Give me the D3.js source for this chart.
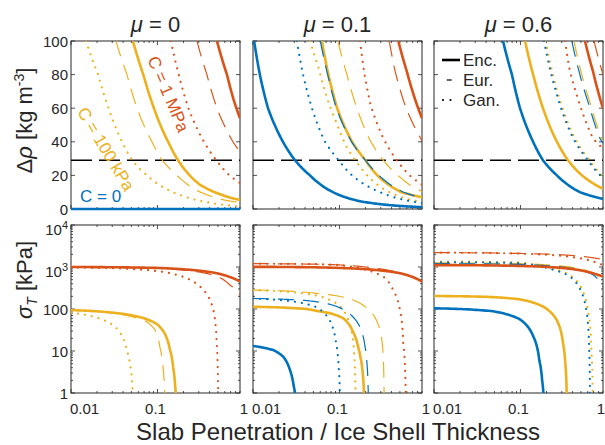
<!DOCTYPE html>
<html>
<head>
<meta charset="utf-8">
<script src="https://cdn.jsdelivr.net/npm/d3@7"></script>
<style>
  body { margin: 0; background: #fff; }
  svg { display: block; font-family: "Liberation Sans", Arial, sans-serif; }
</style>
</head>
<body>
<svg id="chart" width="605" height="445"></svg>
<script>
// ---- data ----
const muLabels = ["0", "0.1", "0.6"];
const xTickLabels = [[0.01, "0.01"], [0.1, "0.1"], [1, "1"]];
const rhoTicks = [0, 20, 40, 60, 80, 100];
const sigmaTicks = [1, 10, 100, 1000, 10000];
const rhoThreshold = 29;
const legendLabels = ["Enc.", "Eur.", "Gan."];

// density contrast [kg m^-3] vs penetration, mu = 0
const rho0_blue = [[0.01, 0], [0.9, 0]];
const rho0_yellow_enc = [[0.052, 100], [0.0686, 80], [0.091, 60], [0.133, 40], [0.173, 29], [0.31, 14.4], [0.75, 6.3], [0.9, 5.4]];
const rho0_yellow_eur = [[0.0331, 100], [0.0444, 80], [0.058, 60], [0.0864, 40], [0.1137, 29], [0.168, 20], [0.3, 10.5], [0.6, 5.3], [0.9, 3.8]];
const rho0_yellow_gan = [[0.0149, 100], [0.0206, 80], [0.0272, 60], [0.039, 40], [0.051, 29], [0.0756, 20], [0.151, 10], [0.4, 3.8], [0.9, 1.6]];
const rho0_red_enc = [[0.487, 100], [0.636, 80], [0.76, 65], [0.9, 54]];
const rho0_red_eur = [[0.286, 100], [0.373, 80], [0.487, 60], [0.746, 40], [0.9, 34]];
const rho0_red_gan = [[0.143, 100], [0.176, 80], [0.228, 60], [0.345, 40], [0.48, 29], [0.68, 20], [0.9, 15.5]];

// mu = 0.1
const rho1_blue_enc = [[0.0103, 100], [0.012, 80], [0.0149, 60], [0.0222, 40], [0.0306, 29], [0.0456, 20], [0.0841, 10], [0.159, 5], [0.4, 2.2], [0.9, 1.1]];
const rho1_blue_eur = [[0.06, 100], [0.073, 80], [0.092, 60], [0.138, 40], [0.2, 29], [0.3, 19], [0.55, 10], [0.9, 6.6]];
const rho1_blue_gan = [[0.0322, 100], [0.0379, 80], [0.0481, 60], [0.068, 40], [0.098, 29], [0.14, 20], [0.294, 10], [0.5, 6], [0.9, 3.5]];
const rho1_yellow_enc = [[0.0625, 100], [0.0745, 80], [0.094, 60], [0.14, 40], [0.2, 29], [0.28, 19.5], [0.52, 10], [0.9, 7]];
const rho1_yellow_eur = [[0.096, 100], [0.122, 80], [0.164, 58], [0.225, 41], [0.327, 28.5], [0.5, 19], [0.69, 13.5], [0.9, 10.5]];
const rho1_yellow_gan = [[0.0456, 100], [0.0569, 84.7], [0.0711, 66.8], [0.0929, 51], [0.121, 37], [0.173, 25.2], [0.294, 13.3], [0.6, 6], [0.9, 4.3]];
const rho1_red_enc = [[0.479, 100], [0.6, 82], [0.9, 54]];
const rho1_red_eur = [[0.376, 100], [0.44, 82], [0.57, 62], [0.87, 42], [0.9, 40.5]];
const rho1_red_gan = [[0.173, 100], [0.192, 82], [0.229, 62], [0.322, 42], [0.46, 29], [0.65, 20], [0.9, 14.5]];

// mu = 0.6
const rho6_blue_enc = [[0.0628, 100], [0.0797, 80], [0.0987, 60], [0.14, 40], [0.182, 29], [0.264, 20], [0.487, 10], [0.9, 6]];
const rho6_blue_eur = [[0.392, 100], [0.475, 82], [0.62, 62], [0.83, 42], [0.9, 39]];
const rho6_blue_gan = [[0.187, 100], [0.223, 82], [0.286, 62], [0.408, 42], [0.603, 29], [0.9, 18.5]];
const rho6_yellow_enc = [[0.113, 100], [0.14, 80], [0.182, 60], [0.264, 40], [0.354, 29], [0.514, 20], [0.9, 12]];
const rho6_yellow_eur = [[0.415, 100], [0.5, 82], [0.65, 62], [0.87, 42], [0.9, 40.5]];
const rho6_yellow_gan = [[0.195, 100], [0.232, 82], [0.297, 62], [0.425, 42], [0.63, 29], [0.9, 19.5]];
const rho6_red_enc = [[0.557, 100], [0.689, 82], [0.9, 60]];
const rho6_red_eur = [[0.71, 100], [0.9, 80]];
const rho6_red_gan = [[0.327, 100], [0.373, 82], [0.487, 62], [0.69, 42], [0.9, 36]];

// tensile stress [kPa] vs penetration, mu = 0
const sig0_red_enc = [[0.01, 1000], [0.05, 975], [0.1, 950], [0.2, 880], [0.3, 820], [0.5, 700], [0.7, 570], [0.9, 450]];
const sig0_red_eur = [[0.01, 1000], [0.1, 930], [0.3, 760], [0.5, 590], [0.687, 372], [0.8, 290], [0.9, 215]];
const sig0_red_gan = [[0.01, 970], [0.03, 935], [0.1, 800], [0.218, 540], [0.34, 283], [0.443, 95], [0.484, 15], [0.497, 4], [0.503, 1], [0.506, 0.7]];
const sig0_yellow_enc = [[0.01, 94], [0.03, 82], [0.048, 72], [0.07, 60], [0.098, 44], [0.12, 27], [0.139, 11], [0.152, 4], [0.16, 1.5], [0.164, 0.7]];
const sig0_yellow_eur = [[0.01, 95], [0.03, 80], [0.05, 66], [0.075, 50], [0.0935, 32], [0.107, 12], [0.116, 4], [0.12, 1.5], [0.122, 0.7]];
const sig0_yellow_gan = [[0.01, 82], [0.02, 62], [0.0282, 46], [0.035, 32], [0.044, 11], [0.048, 5], [0.0508, 2], [0.0517, 1], [0.052, 0.7]];

// mu = 0.1
const sig1_red_enc = [[0.01, 1010], [0.1, 950], [0.247, 860], [0.5, 710], [0.7, 580], [0.9, 447]];
const sig1_red_eur = [[0.01, 1200], [0.05, 1170], [0.1, 1120], [0.2, 1000], [0.3, 900], [0.5, 720], [0.7, 560], [0.9, 420]];
const sig1_red_gan = [[0.01, 1200], [0.05, 1170], [0.101, 1110], [0.206, 850], [0.323, 587], [0.418, 283], [0.5, 95], [0.546, 15], [0.575, 3], [0.584, 1], [0.587, 0.7]];
const sig1_yellow_enc = [[0.01, 113], [0.0418, 100], [0.0545, 90], [0.08, 78], [0.111, 60], [0.144, 28], [0.165, 12], [0.175, 7], [0.187, 2.5], [0.192, 1], [0.194, 0.7]];
const sig1_yellow_eur = [[0.01, 283], [0.0545, 236], [0.132, 175], [0.2, 112], [0.25, 69], [0.3, 26], [0.318, 10], [0.325, 3], [0.328, 1], [0.33, 0.7]];
const sig1_yellow_gan = [[0.01, 280], [0.03, 250], [0.06, 200], [0.1, 120], [0.125, 60], [0.14, 25], [0.148, 8], [0.152, 2], [0.154, 0.7]];
const sig1_blue_enc = [[0.01, 13.2], [0.0172, 10.5], [0.0224, 7.3], [0.0268, 3.5], [0.0295, 1.5], [0.0306, 1], [0.031, 0.7]];
const sig1_blue_eur = [[0.01, 178], [0.04, 160], [0.0711, 135], [0.1, 108], [0.144, 64], [0.18, 30], [0.197, 13], [0.208, 5], [0.214, 1.5], [0.216, 0.7]];
const sig1_blue_gan = [[0.01, 178], [0.03, 150], [0.0545, 110], [0.0778, 52], [0.0916, 15], [0.098, 4], [0.101, 1], [0.102, 0.7]];

// mu = 0.6
const sig6_red_enc = [[0.01, 1110], [0.1, 1060], [0.3, 950], [0.5, 830], [0.7, 700], [0.9, 590]];
const sig6_red_eur = [[0.01, 2200], [0.1, 2100], [0.3, 1950], [0.5, 1800], [0.7, 1650], [0.9, 1500]];
const sig6_red_gan = [[0.01, 2200], [0.1, 2080], [0.2, 1960], [0.3, 1850], [0.5, 1600], [0.7, 1350], [0.9, 1100]];
const sig6_yellow_enc = [[0.01, 204], [0.04, 195], [0.098, 170], [0.184, 113], [0.262, 55], [0.311, 15], [0.33, 5], [0.342, 1], [0.345, 0.7]];
const sig6_yellow_eur = [[0.01, 1250], [0.1, 1200], [0.3, 1050], [0.5, 900], [0.7, 700], [0.9, 480]];
const sig6_yellow_gan = [[0.01, 1350], [0.1, 1280], [0.22, 950], [0.372, 650], [0.53, 260], [0.6, 100], [0.636, 40], [0.665, 8], [0.683, 1], [0.686, 0.7]];
const sig6_blue_enc = [[0.01, 104], [0.0484, 88], [0.098, 57], [0.141, 22], [0.165, 6], [0.178, 2], [0.184, 1], [0.186, 0.7]];
const sig6_blue_eur = [[0.01, 1200], [0.1, 1150], [0.3, 1000], [0.5, 850], [0.7, 640], [0.9, 340]];
const sig6_blue_gan = [[0.01, 1300], [0.1, 1230], [0.22, 900], [0.372, 600], [0.5, 270], [0.57, 110], [0.605, 40], [0.625, 8], [0.636, 1], [0.639, 0.7]];

// [column, colour, body, points]
const rhoSeries = [
  [0, "yellow", "enc", rho0_yellow_enc], [0, "yellow", "eur", rho0_yellow_eur], [0, "yellow", "gan", rho0_yellow_gan],
  [0, "blue", "eur", rho0_blue], [0, "blue", "gan", rho0_blue], [0, "blue", "enc", rho0_blue],
  [0, "red", "enc", rho0_red_enc], [0, "red", "eur", rho0_red_eur], [0, "red", "gan", rho0_red_gan],
  [1, "yellow", "enc", rho1_yellow_enc], [1, "yellow", "eur", rho1_yellow_eur], [1, "yellow", "gan", rho1_yellow_gan],
  [1, "blue", "enc", rho1_blue_enc], [1, "blue", "eur", rho1_blue_eur], [1, "blue", "gan", rho1_blue_gan],
  [1, "red", "enc", rho1_red_enc], [1, "red", "eur", rho1_red_eur], [1, "red", "gan", rho1_red_gan],
  [2, "yellow", "enc", rho6_yellow_enc], [2, "yellow", "eur", rho6_yellow_eur], [2, "yellow", "gan", rho6_yellow_gan],
  [2, "blue", "enc", rho6_blue_enc], [2, "blue", "eur", rho6_blue_eur], [2, "blue", "gan", rho6_blue_gan],
  [2, "red", "enc", rho6_red_enc], [2, "red", "eur", rho6_red_eur], [2, "red", "gan", rho6_red_gan]
];
const sigSeries = [
  [0, "yellow", "enc", sig0_yellow_enc], [0, "yellow", "eur", sig0_yellow_eur], [0, "yellow", "gan", sig0_yellow_gan],
  [0, "red", "enc", sig0_red_enc], [0, "red", "eur", sig0_red_eur], [0, "red", "gan", sig0_red_gan],
  [1, "yellow", "enc", sig1_yellow_enc], [1, "yellow", "eur", sig1_yellow_eur], [1, "yellow", "gan", sig1_yellow_gan],
  [1, "blue", "enc", sig1_blue_enc], [1, "blue", "eur", sig1_blue_eur], [1, "blue", "gan", sig1_blue_gan],
  [1, "red", "enc", sig1_red_enc], [1, "red", "eur", sig1_red_eur], [1, "red", "gan", sig1_red_gan],
  [2, "yellow", "enc", sig6_yellow_enc], [2, "yellow", "eur", sig6_yellow_eur], [2, "yellow", "gan", sig6_yellow_gan],
  [2, "blue", "enc", sig6_blue_enc], [2, "blue", "eur", sig6_blue_eur], [2, "blue", "gan", sig6_blue_gan],
  [2, "red", "enc", sig6_red_enc], [2, "red", "eur", sig6_red_eur], [2, "red", "gan", sig6_red_gan]
];

// ---- layout ----
const colX = [71, 253, 434];
const rowY = [41, 225];
const pw = 169, ph = 168;
const axisColor = "#262626";
const COLORS = { blue: "#0072BD", red: "#D95319", yellow: "#EDB120" };
const STYLES = {
  enc: { w: 2.6, dash: null, cap: "butt" },
  eur: { w: 1.2, dash: "16,9", cap: "butt" },
  gan: { w: 2.2, dash: "0.01,7", cap: "round" }
};

const svg = d3.select("#chart");
const x = d3.scaleLog().domain([0.01, 0.9]).range([0, pw]);
const yRho = d3.scaleLinear().domain([0, 100]).range([ph, 0]);
const ySig = d3.scaleLog().domain([1, 1e4]).range([ph, 0]);

const xMinor = [];
[0.01, 0.1].forEach(d => { for (let k = 2; k <= 9; k++) xMinor.push(d * k); });
const sigMinor = [];
[1, 10, 100, 1000].forEach(d => { for (let k = 2; k <= 9; k++) sigMinor.push(d * k); });

// smooth drawing between read points: power-law steps for the density curves,
// straight steps in x/sigma for the stress curves
function densify(pts, powerLaw) {
  const out = [];
  for (let i = 0; i < pts.length - 1; i++) {
    const [xa, ya] = pts[i], [xb, yb] = pts[i + 1];
    const n = 24;
    for (let k = 0; k < n; k++) {
      const t = k / n;
      const xv = Math.exp(Math.log(xa) + t * (Math.log(xb) - Math.log(xa)));
      let yv;
      if (powerLaw && ya > 0 && yb > 0) {
        yv = Math.exp(Math.log(ya) + t * (Math.log(yb) - Math.log(ya)));
      } else {
        yv = ya + (yb - ya) * (xv - xa) / (xb - xa);
      }
      out.push([xv, yv]);
    }
  }
  out.push(pts[pts.length - 1]);
  return out;
}

const defs = svg.append("defs");

function drawPanel(row, col) {
  const g = svg.append("g").attr("transform", `translate(${colX[col]},${rowY[row]})`);
  const y = row === 0 ? yRho : ySig;
  const id = `clip-${row}-${col}`;
  defs.append("clipPath").attr("id", id)
    .append("rect").attr("x", 0).attr("y", 0).attr("width", pw).attr("height", ph + (row === 0 ? 2 : 0));

  g.append("rect").attr("width", pw).attr("height", ph)
    .attr("fill", "none").attr("stroke", axisColor).attr("stroke-width", 1);

  // ticks, inward on all four sides
  const tk = g.append("g").attr("stroke", axisColor).attr("stroke-width", 0.8);
  const xt = [...[0.01, 0.1].map(v => [v, 4]), ...xMinor.filter(v => v <= 0.9).map(v => [v, 2])];
  xt.forEach(([v, l]) => {
    tk.append("line").attr("x1", x(v)).attr("x2", x(v)).attr("y1", ph).attr("y2", ph - l);
    tk.append("line").attr("x1", x(v)).attr("x2", x(v)).attr("y1", 0).attr("y2", l);
  });
  const yt = row === 0 ? rhoTicks.map(v => [v, 4]) : [...sigmaTicks.map(v => [v, 4]), ...sigMinor.map(v => [v, 2])];
  yt.forEach(([v, l]) => {
    tk.append("line").attr("x1", 0).attr("x2", l).attr("y1", y(v)).attr("y2", y(v));
    tk.append("line").attr("x1", pw).attr("x2", pw - l).attr("y1", y(v)).attr("y2", y(v));
  });

  const plot = g.append("g").attr("clip-path", `url(#${id})`);
  if (row === 0) {
    plot.append("line").attr("x1", 0).attr("x2", pw)
      .attr("y1", yRho(rhoThreshold)).attr("y2", yRho(rhoThreshold))
      .attr("stroke", "#000").attr("stroke-width", 1.5).attr("stroke-dasharray", "21,7");
  }
  const line = d3.line().x(d => x(d[0])).y(d => y(d[1]));
  (row === 0 ? rhoSeries : sigSeries).filter(s => s[0] === col).forEach(([, c, body, pts]) => {
    const st = STYLES[body];
    plot.append("path").attr("d", line(densify(pts, row === 0)))
      .attr("fill", "none").attr("stroke", COLORS[c])
      .attr("stroke-width", st.w).attr("stroke-linecap", st.cap)
      .attr("stroke-linejoin", "round")
      .attr("stroke-dasharray", st.dash);
  });

  // tick labels
  if (col === 0) {
    const lab = g.append("g").attr("font-size", 15).attr("fill", axisColor).attr("text-anchor", "end");
    if (row === 0) {
      rhoTicks.forEach(v => lab.append("text").attr("x", -3).attr("y", yRho(v) + 5.5).text(v));
    } else {
      sigmaTicks.forEach(v => {
        const e = Math.round(Math.log10(v));
        if (e < 3) {
          lab.append("text").attr("x", -3).attr("y", ySig(v) + 5.5).text(v);
        } else {
          const t = lab.append("text").attr("x", -3).attr("y", ySig(v) + 10);
          t.append("tspan").text("10");
          t.append("tspan").attr("font-size", 11).attr("dy", -6).text(e);
        }
      });
    }
  }
  if (row === 1) {
    const lab = g.append("g").attr("font-size", 15).attr("fill", axisColor);
    xTickLabels.forEach(([v, s], i) => {
      const last = i === 2 && col === 2;
      lab.append("text")
        .attr("x", i === 0 ? x(v) - 1 : (last ? 605 - colX[col] : x(v) - (i === 1 ? 2 : 0)))
        .attr("y", 414 - rowY[1])
        .attr("text-anchor", i === 0 ? "start" : (last ? "end" : "middle")).text(s);
    });
  }
  if (row === 0) {
    const t = svg.append("text").attr("x", colX[col] + pw / 2).attr("y", 31.5)
      .attr("text-anchor", "middle").attr("font-size", 22).attr("fill", axisColor);
    t.append("tspan").attr("font-style", "italic").text("μ");
    t.append("tspan").text(" = " + muLabels[col]);
  }
}

for (let r = 0; r < 2; r++) for (let c = 0; c < 3; c++) drawPanel(r, c);

// axis titles
const yl1 = svg.append("text").attr("transform", "translate(31.5,120.5) rotate(-90)")
  .attr("text-anchor", "middle").attr("font-size", 22).attr("fill", axisColor);
yl1.append("tspan").text("Δ");
yl1.append("tspan").attr("font-style", "italic").text("ρ");
yl1.append("tspan").text(" [kg m");
yl1.append("tspan").attr("font-size", 14).attr("dy", -8).text("-3");
yl1.append("tspan").attr("dy", 8).text("]");

const yl2 = svg.append("text").attr("transform", "translate(31.5,280) rotate(-90)")
  .attr("text-anchor", "middle").attr("font-size", 22).attr("fill", axisColor);
yl2.append("tspan").attr("font-style", "italic").text("σ");
yl2.append("tspan").attr("font-style", "italic").attr("font-size", 14).attr("dy", 5).text("T");
yl2.append("tspan").attr("dy", -5).text(" [kPa]");

svg.append("text").attr("x", 338).attr("y", 440).attr("text-anchor", "middle")
  .attr("font-size", 24).attr("fill", axisColor).text("Slab Penetration / Ice Shell Thickness");

// curve annotations in the mu = 0 panel
const ann = svg.append("g").attr("font-size", 17);
ann.append("text").attr("transform", "translate(168.5,94) rotate(67)")
  .attr("text-anchor", "middle").attr("dy", "0.35em").attr("fill", COLORS.red).text("C = 1 MPa");
ann.append("text").attr("transform", "translate(106,149) rotate(59)")
  .attr("text-anchor", "middle").attr("dy", "0.35em").attr("fill", COLORS.yellow).text("C = 100 kPa");
ann.append("text").attr("x", 80).attr("y", 202).attr("fill", COLORS.blue).text("C = 0");

// legend (line style = body)
const leg = svg.append("g").attr("font-size", 17).attr("fill", axisColor);
const legY = [60, 80, 100];
const legX = [[442, 460], [446.7, 451.7], [443, 458]];
["enc", "eur", "gan"].forEach((b, i) => {
  const st = STYLES[b];
  leg.append("line").attr("x1", legX[i][0]).attr("x2", legX[i][1]).attr("y1", legY[i]).attr("y2", legY[i])
    .attr("stroke", "#000").attr("stroke-width", st.w).attr("stroke-linecap", st.cap)
    .attr("stroke-dasharray", b === "gan" ? "0.01,7.5" : null);
  leg.append("text").attr("x", 463).attr("y", legY[i] + 6).text(legendLabels[i]);
});
</script>
</body>
</html>
